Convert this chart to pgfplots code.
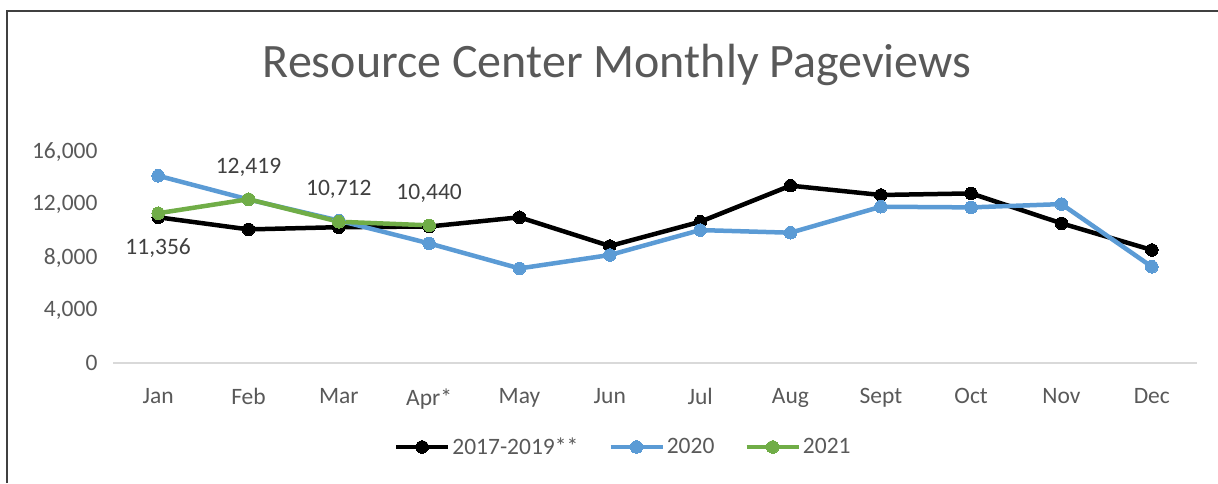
\documentclass[border=0pt]{standalone}
\usepackage{fontspec}
\setmainfont{Carlito}
\usepackage{pgfplots}
\pgfplotsset{compat=1.18}
\definecolor{txt}{HTML}{595959}
\definecolor{lbl}{HTML}{404040}
\definecolor{blu}{HTML}{5B9BD5}
\definecolor{grn}{HTML}{70AD47}
\definecolor{axc}{HTML}{D9D9D9}
\begin{document}
\begin{tikzpicture}[x=1pt,y=1pt]
\useasboundingbox (0,0) rectangle (1218,483);
\draw[line width=2pt, black!75] (7,0) -- (7,472) -- (1218,472);
\node[anchor=base, text=txt, font=\fontsize{48}{56}\selectfont] at (617,405) {Resource Center Monthly Pageviews};
\begin{axis}[
  at={(113pt,120pt)}, anchor=south west,
  scale only axis, width=1084pt, height=211pt,
  xmin=-0.5, xmax=11.5, ymin=0, ymax=16000,
  axis x line=bottom, axis y line=left,
  x axis line style={draw=axc, line width=1.2pt, -},
  y axis line style={draw=none},
  major tick length=0pt,
  xtick={0,...,11},
  xticklabels={Jan,Feb,Mar,Apr*,May,Jun,Jul,Aug,Sept,Oct,Nov,Dec},
  ytick={0,4000,8000,12000,16000},
  scaled y ticks=false,
  /pgf/number format/.cd, 1000 sep={,}, assume math mode=true, /pgfplots/.cd,
  tick label style={text=txt, font=\fontsize{23.5}{28}\selectfont},
  xticklabel style={yshift=-22pt},
  yticklabel style={xshift=-12pt},
  clip=false,
  legend style={at={(0.4707,-0.398)}, anchor=center, draw=none, fill=none,
    font=\fontsize{23.5}{28}\selectfont, text=txt, legend columns=3,
    /tikz/every even column/.append style={column sep=28pt}},
  legend image code/.code={
    \draw[#1, mark=none] (0pt,0pt) -- (52pt,0pt);
    \draw[#1, only marks] plot coordinates {(26pt,0pt)};
  },
]
\addplot[black, line width=4.5pt, mark=*, mark size=6.3pt, mark options={solid, line width=0pt}] coordinates {
(0,11050) (1,10130) (2,10300) (3,10350) (4,11050) (5,8870) (6,10710) (7,13450) (8,12740) (9,12860) (10,10590) (11,8570)};
\addlegendentry{2017-2019**}
\addplot[blu, line width=4.5pt, mark=*, mark size=6.3pt, mark options={solid, line width=0pt}] coordinates {
(0,14200) (1,12400) (2,10800) (3,9070) (4,7170) (5,8190) (6,10080) (7,9880) (8,11850) (9,11800) (10,12050) (11,7300)};
\addlegendentry{2020}
\addplot[grn, line width=4.5pt, mark=*, mark size=6.3pt, mark options={solid, line width=0pt},
  nodes near coords, point meta=explicit symbolic,
  visualization depends on={\thisrow{dy} \as \mydy},
  every node near coord/.append style={anchor=center, text=lbl, font=\fontsize{23.5}{28}\selectfont, inner sep=0pt, yshift=\mydy pt},
] table[x=x, y=y, meta=lab] {
x y lab dy
0 11356 11,356 -35
1 12419 12,419 32
2 10712 10,712 32
3 10440 10,440 32
};
\addlegendentry{2021}
\end{axis}
\end{tikzpicture}
\end{document}
